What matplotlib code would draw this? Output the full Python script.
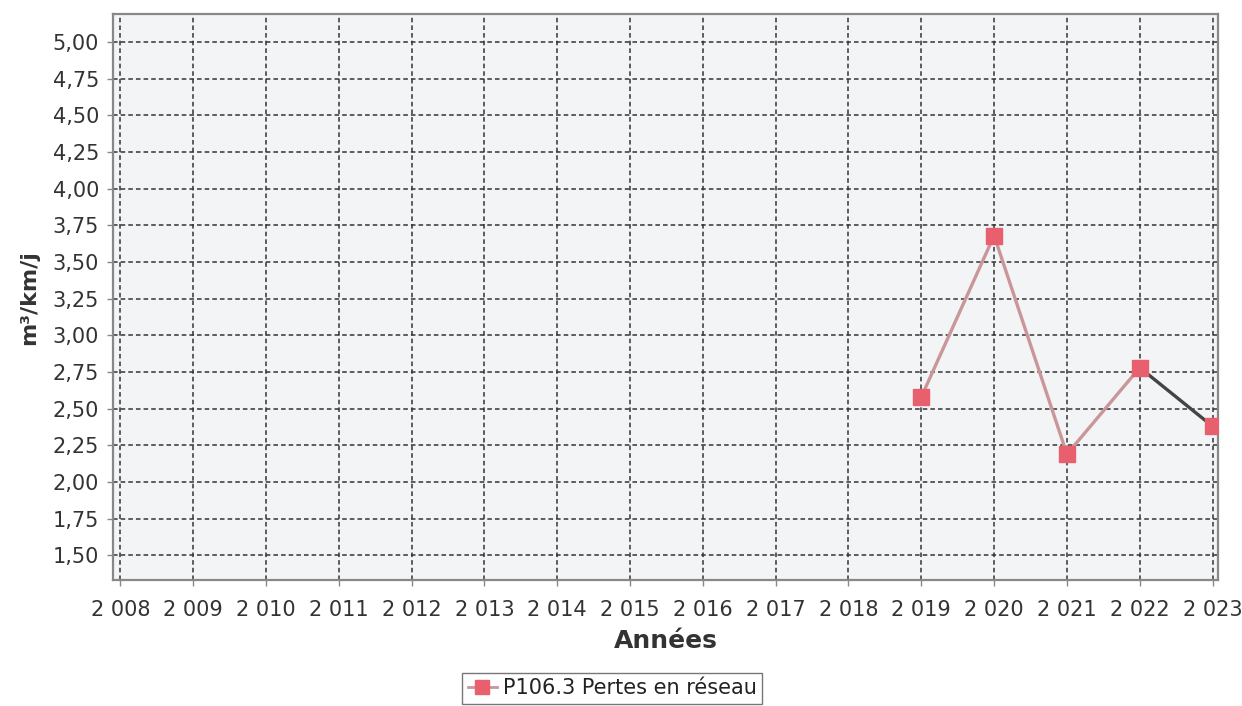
import matplotlib
matplotlib.use("Agg")
import matplotlib.pyplot as plt
from matplotlib.ticker import FuncFormatter, FixedLocator
from matplotlib.lines import Line2D

years = [2019, 2020, 2021, 2022, 2023]
values = [2.58, 3.68, 2.19, 2.78, 2.38]
xticks = list(range(2008, 2024))
yticks = [1.50, 1.75, 2.00, 2.25, 2.50, 2.75, 3.00, 3.25, 3.50, 3.75, 4.00, 4.25, 4.50, 4.75, 5.00]
series_label = "P106.3 Pertes en réseau"

plt.rcParams['font.family'] = ['DejaVu Sans']

fig = plt.figure(figsize=(12.42, 7.06), dpi=100)
ax = fig.add_axes([0.091, 0.178, 0.890, 0.802])
ax.set_facecolor('#f3f4f6')

line_color = '#c9969a'
ax.plot(years[:-1], values[:-1], color=line_color, lw=2.4, zorder=3)
ax.plot(years[-2:], values[-2:], color='#444444', lw=2.4, zorder=3)
ax.plot(years, values, ls='none', marker='s', ms=11, color='#e8606e', zorder=4)

ax.set_xlim(2007.9, 2023.08)
ax.set_ylim(1.33, 5.19)
ax.xaxis.set_major_locator(FixedLocator(xticks))
ax.yaxis.set_major_locator(FixedLocator(yticks))
ax.xaxis.set_major_formatter(FuncFormatter(lambda v, p: f"{int(v)//1000} {int(v)%1000:03d}"))
ax.yaxis.set_major_formatter(FuncFormatter(lambda v, p: f"{v:.2f}".replace('.', ',')))
ax.tick_params(axis='both', labelsize=15, colors='#888888', labelcolor='#333333', length=4, width=1)
ax.tick_params(axis='x', pad=10)
ax.tick_params(axis='y', pad=6)

ax.grid(True, color='#333333', ls=(0, (3, 2)), lw=1.1)
for s in ax.spines.values():
    s.set_color('#888888')
    s.set_linewidth(1.6)

ax.set_xlabel("Années", fontsize=18, fontweight='bold', color='#333333', labelpad=7)
ax.set_ylabel("m³/km/j", fontsize=16, fontweight='bold', color='#333333', labelpad=10)

handle = Line2D([], [], color=line_color, lw=2, marker='s', ms=10, markerfacecolor='#e8606e', markeredgecolor='#e8606e')
leg = fig.legend([handle], [series_label], loc='center', bbox_to_anchor=(0.493, 0.025),
                 fontsize=15, frameon=True, fancybox=False, handlelength=1.4, handletextpad=0.3,
                 borderpad=0.25)
leg.get_frame().set_edgecolor('#555555')
leg.get_frame().set_linewidth(1.0)
for t in leg.get_texts():
    t.set_color('#222222')

fig.savefig("out.png", dpi=100)
